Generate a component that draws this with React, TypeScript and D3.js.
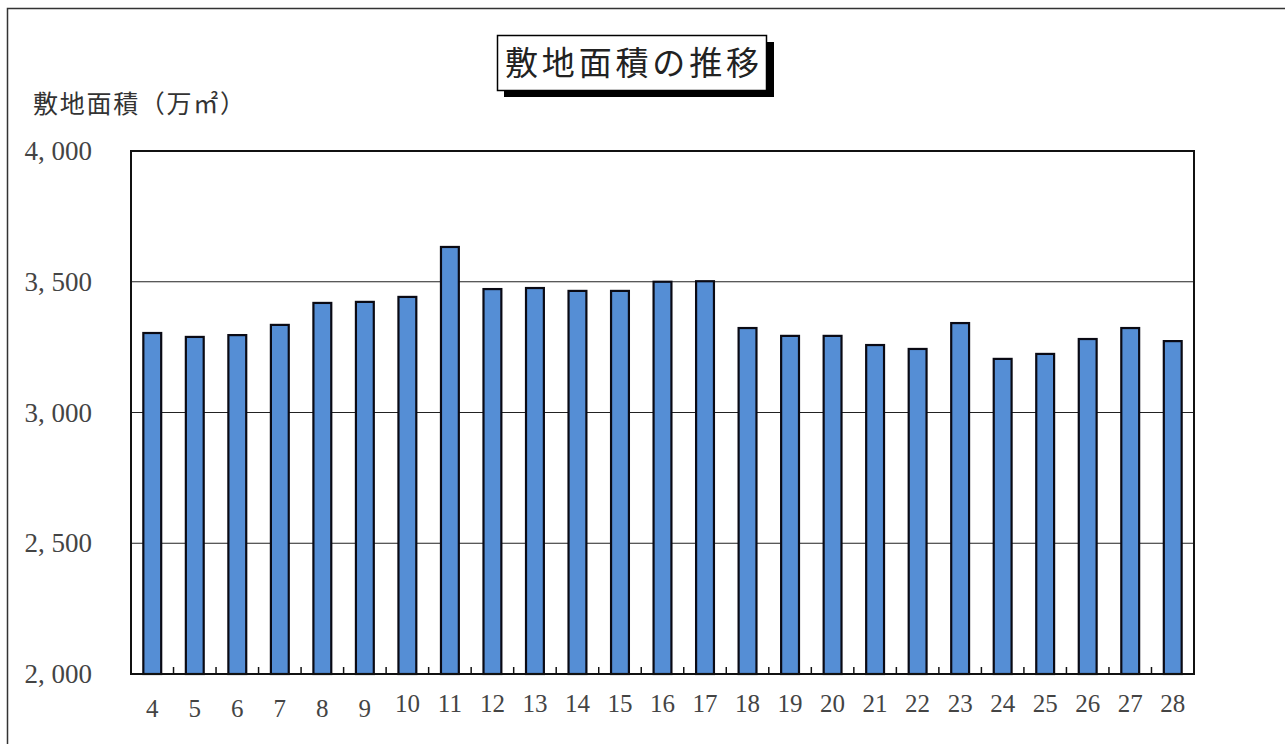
import React from "react";
import * as d3 from "d3";

const categories = ["4","5","6","7","8","9","10","11","12","13","14","15","16","17","18","19","20","21","22","23","24","25","26","27","28"];
const values = [3304,3289,3296,3335,3419,3423,3442,3633,3472,3476,3465,3465,3500,3502,3323,3293,3293,3258,3243,3342,3205,3224,3281,3323,3273];
const yTicks = [2000,2500,3000,3500,4000];
const yTickLabels = ["2, 000","2, 500","3, 000","3, 500","4, 000"];
const title = "敷地面積の推移";
const yLabel = "敷地面積（万㎡）";

const W = 1285, H = 744;
const plot = { left: 131, right: 1194, top: 151, bottom: 674 };

export default function App() {
  const x = d3.scaleBand<string>().domain(categories).range([plot.left, plot.right]).paddingInner(0.58).paddingOuter(0.29);
  const band = d3.scaleBand<string>().domain(categories).range([plot.left, plot.right]);
  const y = d3.scaleLinear().domain([2000, 4000]).range([plot.bottom, plot.top]);
  const serif = "'Liberation Serif', 'DejaVu Serif', serif";
  const jp = "'Noto Sans CJK JP', sans-serif";
  return (
    <svg width={W} height={H} style={{ position: "absolute", left: 0, top: 0, background: "#fff" }}>
      <rect x={7.5} y={8.5} width={W + 10} height={H + 10} fill="#fff" stroke="#333" strokeWidth={1.5} />
      {/* title box */}
      <rect x={504} y={42} width={270} height={55} fill="#000" />
      <rect x={497.5} y={35.5} width={269} height={55} fill="#fff" stroke="#000" strokeWidth={1.5} />
      <text x={505} y={75} textLength={254} lengthAdjust="spacing" fontFamily={jp} fontSize={33} fill="#222">{title}</text>
      {/* y label */}
      <text x={33} y={113} textLength={212} lengthAdjust="spacing" fontFamily={jp} fontSize={25} fill="#333">{yLabel}</text>
      {/* gridlines */}
      {yTicks.slice(1, -1).map(t => (
        <line key={t} x1={plot.left} x2={plot.right} y1={y(t)} y2={y(t)} stroke="#222" strokeWidth={1.2} />
      ))}
      {/* bars */}
      {values.map((v, i) => (
        <rect key={categories[i]} x={x(categories[i])!} y={y(v)} width={x.bandwidth()} height={plot.bottom - y(v)}
          fill="#558ED5" stroke="#0a0a14" strokeWidth={2.2} />
      ))}
      {/* bottom ticks */}
      {categories.slice(1).map(c => (
        <line key={c} x1={band(c)!} x2={band(c)!} y1={plot.bottom} y2={plot.bottom - 7} stroke="#111" strokeWidth={1.5} />
      ))}
      {/* frame */}
      <rect x={plot.left} y={plot.top} width={plot.right - plot.left} height={plot.bottom - plot.top} fill="none" stroke="#111" strokeWidth={2} />
      {/* y tick labels */}
      {yTicks.map((t, i) => (
        <text key={t} x={92} y={y(t) + 9} textAnchor="end" fontFamily={serif} fontSize={27} fill="#444">{yTickLabels[i]}</text>
      ))}
      {/* x labels */}
      {categories.map(c => (
        <text key={c} x={band(c)! + band.bandwidth() / 2} y={c.length > 1 ? 712 : 717} textAnchor="middle"
          fontFamily={serif} fontSize={25} fill="#444">{c}</text>
      ))}
    </svg>
  );
}
